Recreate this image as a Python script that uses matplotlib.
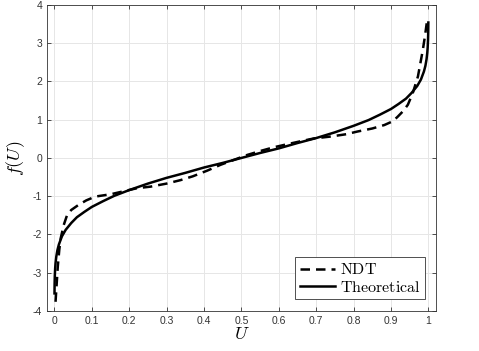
import numpy as np
import matplotlib
matplotlib.use('Agg')
import matplotlib.pyplot as plt

plt.rcParams['mathtext.fontset'] = 'cm'
plt.rcParams['axes.unicode_minus'] = False
plt.rcParams['font.family'] = ['Liberation Sans', 'DejaVu Sans']

# Theoretical curve
u_theo = [0.0002, 0.0005, 0.001, 0.002, 0.003, 0.005, 0.008, 0.012, 0.02, 0.03, 0.045,
          0.06, 0.08, 0.1, 0.13, 0.16, 0.2, 0.25, 0.3, 0.35, 0.4, 0.45, 0.5,
          0.55, 0.6, 0.65, 0.7, 0.75, 0.8, 0.84, 0.87, 0.9, 0.92, 0.94, 0.955,
          0.97, 0.98, 0.988, 0.992, 0.995, 0.997, 0.998, 0.999, 0.9995, 0.9998]
f_theo = [-3.54, -3.29, -3.09, -2.88, -2.75, -2.58, -2.41, -2.26, -2.05, -1.88, -1.70,
          -1.55, -1.41, -1.28, -1.13, -0.99, -0.84, -0.67, -0.52, -0.39, -0.25, -0.13, 0.0,
          0.13, 0.25, 0.39, 0.52, 0.67, 0.84, 0.99, 1.13, 1.28, 1.41, 1.55, 1.70,
          1.88, 2.05, 2.26, 2.41, 2.58, 2.75, 2.88, 3.09, 3.29, 3.54]

# NDT curve
u_ndt = [0.003, 0.006, 0.009, 0.013, 0.017, 0.025, 0.034, 0.045, 0.064, 0.085, 0.109,
         0.15, 0.19, 0.221, 0.257, 0.3, 0.337, 0.37, 0.409, 0.444, 0.48, 0.516, 0.55,
         0.587, 0.623, 0.66, 0.694, 0.739, 0.78, 0.81, 0.85, 0.882, 0.905, 0.918,
         0.932, 0.945, 0.958, 0.972, 0.985, 0.991, 0.996]
f_ndt = [-3.76, -3.30, -2.84, -2.40, -2.09, -1.75, -1.49, -1.36, -1.23, -1.11, -1.01,
         -0.95, -0.86, -0.79, -0.75, -0.67, -0.58, -0.48, -0.33, -0.18, -0.05, 0.08, 0.18,
         0.28, 0.36, 0.44, 0.51, 0.56, 0.62, 0.69, 0.77, 0.86, 0.96, 1.08,
         1.22, 1.39, 1.69, 2.13, 2.82, 3.20, 3.56]

fig = plt.figure(figsize=(4.79, 3.51), dpi=100)
ax = fig.add_axes([0.098, 0.114, 0.812, 0.872])

ax.plot(u_ndt, f_ndt, color='black', lw=1.8, linestyle=(0, (3.8, 2.4)), label=r'$\mathrm{NDT}$')
ax.plot(u_theo, f_theo, color='black', lw=1.8, label=r'$\mathrm{Theoretical}$')

ax.set_xlim(-0.02, 1.02)
ax.set_ylim(-4, 4)
ax.set_xticks(np.arange(0, 1.01, 0.1))
ax.set_xticklabels(['0', '0.1', '0.2', '0.3', '0.4', '0.5', '0.6', '0.7', '0.8', '0.9', '1'])
ax.set_yticks(range(-4, 5))
ax.set_yticklabels([str(v) for v in range(-4, 5)])
ax.grid(True, color='#e6e6e6', lw=0.7)
ax.set_axisbelow(True)
ax.tick_params(direction='in', top=True, right=True, labelsize=7.5, colors='#333333',
               length=3, width=0.6)
for s in ax.spines.values():
    s.set_color('#333333')
    s.set_linewidth(0.6)

ax.set_xlabel(r'$U$', fontsize=13, labelpad=0)
ax.set_ylabel(r'$f(U)$', fontsize=13, labelpad=4)

leg = ax.legend(loc='lower right', bbox_to_anchor=(0.972, 0.038), fontsize=11.5,
                fancybox=False, edgecolor='#333333', framealpha=1, handlelength=2.2,
                handletextpad=0.3, borderpad=0.3, labelspacing=0.15, borderaxespad=0)
leg.get_frame().set_linewidth(0.6)

fig.savefig('out.png', dpi=100)
